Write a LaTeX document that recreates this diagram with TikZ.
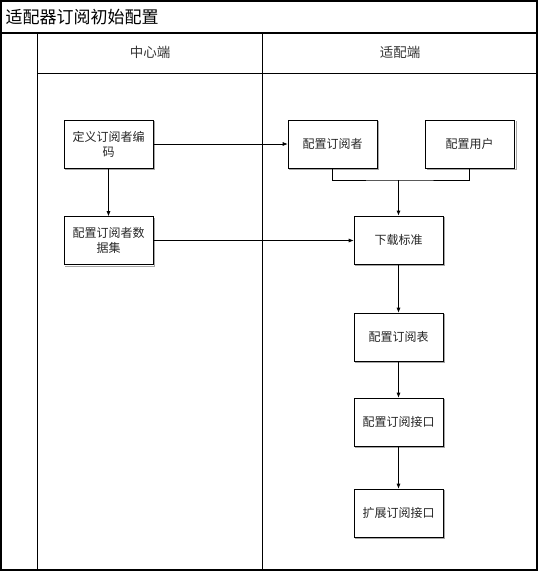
\documentclass[tikz,border=0pt]{standalone}
\usepackage{fontspec}
\newfontfamily\cjk{Noto Sans CJK SC}
\usetikzlibrary{arrows.meta}
\begin{document}
\begin{tikzpicture}[x=1pt,y=-1pt,
  frame/.style={draw=black,line width=1.2pt},
  lane/.style={draw=black,line width=0.8pt},
  proc/.style={draw=black,line width=0.6pt,fill=white,minimum width=89pt,minimum height=48pt,align=center,font=\cjk\fontsize{12}{15}\selectfont,inner sep=2pt,text=black!85},
  shadowc/.style={draw=gray!70,line width=0.8pt},
  conn/.style={draw=black,line width=0.6pt},
  arr/.style={conn,-{Latex[length=5pt,width=4pt]}},
  hdr/.style={font=\cjk\fontsize{13.5}{15}\selectfont,text=black!80}
]
\useasboundingbox (0,0) rectangle (539,573);
% frame
\draw[frame] (1,1) rectangle (537,570);
\draw[frame] (1,33) -- (537,33);
\draw[lane] (37,33) -- (37,570);
\draw[lane] (262,33) -- (262,570);
\draw[lane] (37,73) -- (537,73);
\node[anchor=west,font=\cjk\fontsize{17}{19}\selectfont] (title) at (2,17) {适配器订阅初始配置};
\node[hdr] (h1) at (150,52) {中心端};
\node[hdr] (h2) at (400,52) {适配端};
% shadows
\foreach \x/\y in {64/120,64/217,288/120,426/120,354/216,354/313,354/398,354/489}{
  \draw[shadowc] (\x+90,\y+1) -- (\x+90,\y+49) -- (\x+1,\y+49);
}
% boxes
\node[proc] (a) at (108.5,144) {定义订阅者编\\码};
\node[proc] (b) at (108.5,240.5) {配置订阅者数\\据集};
\node[proc] (c) at (332.5,144) {配置订阅者};
\node[proc] (d) at (469.5,144) {配置用户};
\node[proc] (e) at (398.5,240) {下载标准};
\node[proc] (f) at (398.5,337) {配置订阅表};
\node[proc] (g) at (398.5,422) {配置订阅接口};
\node[proc] (h) at (398.5,513) {扩展订阅接口};
% connectors
\coordinate (m) at (398.5,180);
\draw[arr] (a.east) -- (c.west);
\draw[arr] (a.south) -- (b.north);
\draw[arr] (b.east) -- (b.east -| e.west);
\draw[conn] (c.south) |- (m) -| (d.south);
\draw[arr,line width=1pt] (m) -- (e.north);
\draw[arr] (e) -- (f);
\draw[arr] (f) -- (g);
\draw[arr] (g) -- (h);
\end{tikzpicture}
\end{document}
